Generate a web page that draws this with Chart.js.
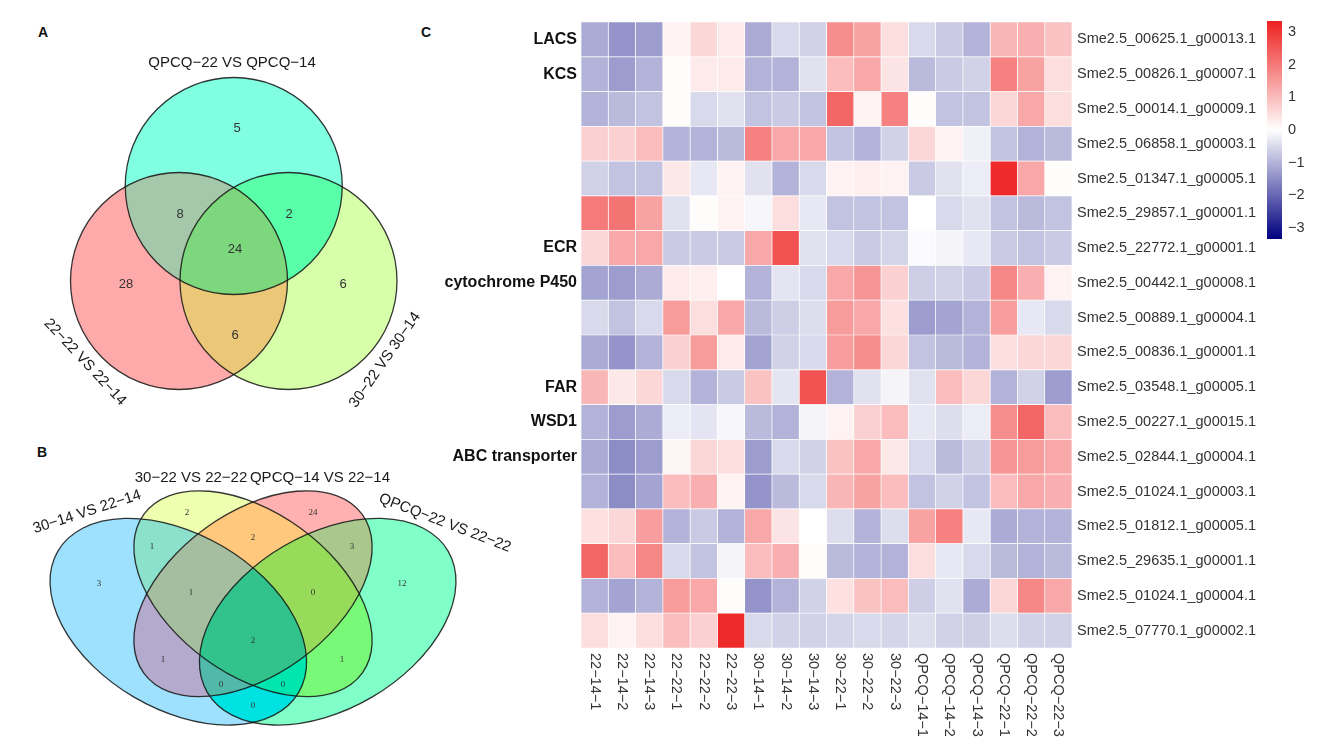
<!DOCTYPE html>
<html>
<head>
<meta charset="utf-8">
<script src="https://cdn.jsdelivr.net/npm/chart.js@4.4.1/dist/chart.umd.min.js"></script>
<style>
body{margin:0;background:#fff;width:1325px;height:749px;overflow:hidden;position:relative;font-family:"Liberation Sans",Arial,sans-serif;}
canvas{position:absolute;}
.tag{position:absolute;font:bold 14px "Liberation Sans",Arial,sans-serif;color:#111;}
</style>
</head>
<body>
<div class="tag" style="left:38px;top:24px">A</div>
<div class="tag" style="left:37px;top:444px">B</div>
<div class="tag" style="left:421px;top:24px">C</div>
<canvas id="venn" width="560" height="749" style="left:0;top:0"></canvas>
<canvas id="heat" width="905" height="749" style="left:420px;top:0"></canvas>
<canvas id="cbar" width="85" height="260" style="left:1240px;top:0"></canvas>
<script>
// ---- data ----
var vennASets=['QPCQ\u221222 VS QPCQ\u221214','22\u221222 VS 22\u221214','30\u221222 VS 30\u221214'];
var vennARegions=[[0],[1],[2],[0,1],[0,2],[1,2],[0,1,2]];
var vennACounts=[5,28,6,8,2,6,24];

var vennBSets=['30\u221214 VS 22\u221214','30\u221222 VS 22\u221222','QPCQ\u221214 VS 22\u221214','QPCQ\u221222 VS 22\u221222'];
var vennBRegions=[[0],[1],[2],[3],[0,1],[1,2],[2,3],[0,2],[1,3],[0,3],[0,1,2],[1,2,3],[0,2,3],[0,1,3],[0,1,2,3]];
var vennBCounts=[3,2,24,12,1,2,3,1,1,0,1,0,0,0,2];

var samples=['22\u221214\u22121','22\u221214\u22122','22\u221214\u22123','22\u221222\u22121','22\u221222\u22122','22\u221222\u22123',
 '30\u221214\u22121','30\u221214\u22122','30\u221214\u22123','30\u221222\u22121','30\u221222\u22122','30\u221222\u22123',
 'QPCQ\u221214\u22121','QPCQ\u221214\u22122','QPCQ\u221214\u22123','QPCQ\u221222\u22121','QPCQ\u221222\u22122','QPCQ\u221222\u22123'];
var genes=['Sme2.5_00625.1_g00013.1','Sme2.5_00826.1_g00007.1','Sme2.5_00014.1_g00009.1','Sme2.5_06858.1_g00003.1',
 'Sme2.5_01347.1_g00005.1','Sme2.5_29857.1_g00001.1','Sme2.5_22772.1_g00001.1','Sme2.5_00442.1_g00008.1',
 'Sme2.5_00889.1_g00004.1','Sme2.5_00836.1_g00001.1','Sme2.5_03548.1_g00005.1','Sme2.5_00227.1_g00015.1',
 'Sme2.5_02844.1_g00004.1','Sme2.5_01024.1_g00003.1','Sme2.5_01812.1_g00005.1','Sme2.5_29635.1_g00001.1',
 'Sme2.5_01024.1_g00004.1','Sme2.5_07770.1_g00002.1'];
var geneGroups=['LACS','KCS','','','','','ECR','cytochrome P450','','','FAR','WSD1','ABC transporter','','','','',''];
var heat=[
 [-1.1,-1.4,-1.3,0.2,0.6,0.3,-1.1,-0.5,-0.6,1.7,1.4,0.5,-0.5,-0.7,-1.0,1.1,1.2,0.9],
 [-1.0,-1.3,-1.0,0.05,0.3,0.3,-1.0,-1.0,-0.4,1.0,1.3,0.4,-0.9,-0.7,-0.6,1.9,1.4,0.5],
 [-1.0,-0.9,-0.8,0.05,-0.5,-0.4,-0.8,-0.7,-0.8,2.3,0.2,1.9,0.05,-0.8,-0.8,0.6,1.3,0.5],
 [0.7,0.7,1.0,-1.0,-1.0,-0.9,1.9,1.3,1.3,-0.8,-1.0,-0.6,0.6,0.2,-0.2,-0.8,-1.0,-0.9],
 [-0.6,-0.8,-0.8,0.35,-0.3,0.2,-0.4,-1.0,-0.5,0.2,0.25,0.2,-0.7,-0.4,-0.25,3.2,1.3,0.05],
 [2.0,2.1,1.4,-0.4,0.05,0.2,-0.1,0.5,-0.3,-0.8,-0.8,-0.8,0,-0.5,-0.4,-0.8,-0.9,-0.8],
 [0.6,1.3,1.3,-0.7,-0.7,-0.7,1.3,2.6,-0.4,-0.5,-0.7,-0.55,-0.05,-0.15,-0.3,-0.7,-0.8,-0.7],
 [-1.2,-1.3,-1.1,0.3,0.25,0,-1.0,-0.35,-0.5,1.3,1.6,0.7,-0.65,-0.6,-0.7,1.8,1.2,0.2],
 [-0.5,-0.8,-0.5,1.5,0.5,1.3,-0.9,-0.65,-0.45,1.5,1.3,0.45,-1.3,-1.2,-1.0,1.45,-0.3,-0.5],
 [-1.1,-1.4,-1.0,0.7,1.5,0.3,-1.2,-0.6,-0.5,1.45,1.7,0.6,-0.8,-0.9,-1.0,0.5,0.6,0.6],
 [1.1,0.35,0.6,-0.5,-1.0,-0.7,0.9,-0.35,2.6,-1.0,-0.4,-0.15,-0.4,1.0,0.6,-1.0,-0.6,-1.3],
 [-1.0,-1.3,-1.1,-0.25,-0.35,-0.1,-0.9,-1.0,-0.15,0.2,0.7,1.0,-0.3,-0.45,-0.25,1.7,2.3,1.0],
 [-1.1,-1.5,-1.3,0.15,0.6,0.5,-1.3,-0.5,-0.6,0.9,1.3,0.35,-0.5,-0.9,-0.65,1.6,1.5,1.3],
 [-1.0,-1.5,-1.2,1.0,1.2,0.2,-1.4,-0.9,-0.5,1.1,1.4,1.0,-0.8,-0.6,-0.8,1.0,1.3,1.2],
 [0.45,0.6,1.45,-1.0,-0.7,-1.0,1.3,0.4,0,-0.45,-1.0,-0.45,1.4,1.9,-0.3,-1.1,-1.0,-1.0],
 [2.3,1.0,1.8,-0.5,-0.8,-0.15,1.0,1.2,0.05,-0.9,-1.0,-1.0,0.5,-0.3,-0.5,-0.9,-1.0,-0.9],
 [-1.0,-1.2,-1.0,1.5,1.3,0.05,-1.4,-1.0,-0.6,0.45,0.9,1.0,-0.65,-0.4,-1.1,0.6,1.8,1.3],
 [0.5,0.2,0.5,1.0,0.7,3.2,-0.5,-0.6,-0.6,-0.55,-0.5,-0.55,-0.45,-0.6,-0.65,-0.45,-0.6,-0.6]
];
var cbMin=-3.35, cbMax=3.35;
var cbTicks=[-3,-2,-1,0,1,2,3];

// ---- layout / styles ----
var FONT='"Liberation Sans", Arial, sans-serif';
var vennAShapes=[{cx:233.75,cy:186,rx:108.5,ry:108.5,rot:0},{cx:179,cy:281,rx:108.5,ry:108.5,rot:0},{cx:288.5,cy:281,rx:108.5,ry:108.5,rot:0}];
var vennAColors=['#80ffe1','#ffaaaa','#d7ffaa','#a5c8aa','#5affaa','#ebc878','#7dd77d'];
var vennALabelPos=[[237,128],[126,284],[343,284],[180,214],[289,214],[235,335],[235,249]];
var vennASetPos=[[232,63,0],[85,362,47],[385,360,-55]];

var vennBShapes=[{cx:178.3,cy:621.7,rx:139.6,ry:87.5,rot:30.4},{cx:253,cy:593.7,rx:135,ry:81,rot:36},
 {cx:253,cy:593.7,rx:135,ry:81,rot:-36},{cx:327.7,cy:621.7,rx:139.6,ry:87.5,rot:-30.4}];
var vennBColors=['#9de1fe','#eeffb0','#ffb0b0','#80ffc8','#8ce1cd','#ffc87d','#aac88c','#b4aacd','#78fa78','#00e1e1',
 '#a5bea0','#96dc5a','#50b9aa','#00e6af','#32c38c'];
var vennBLabelPos=[[99,584],[187,513],[313,513],[402,584],[152,547],[253,538],[352,547],[163,660],[342,660],[253,706],
 [191,593],[313,593],[221,685],[283,685],[253,641]];
var vennBSetPos=[[87,512,-18],[191,478,0],[320,478,0],[445,523,21]];

function heatColor(v){
  var t=Math.min(Math.abs(v)/cbMax,1);
  if(v>=0) return 'rgb('+Math.round(255-17*t)+','+Math.round(255-223*t)+','+Math.round(255-223*t)+')';
  return 'rgb('+Math.round(255*(1-t))+','+Math.round(255*(1-t))+','+Math.round(255-127*t)+')';
}

// ---- venn diagrams ----
var diagrams=[
  {shapes:vennAShapes,regions:vennARegions,counts:vennACounts,colors:vennAColors,pos:vennALabelPos,
   sets:vennASets,setPos:vennASetPos,countFont:'13px '+FONT,setFont:'15px '+FONT},
  {shapes:vennBShapes,regions:vennBRegions,counts:vennBCounts,colors:vennBColors,pos:vennBLabelPos,
   sets:vennBSets,setPos:vennBSetPos,countFont:'9px "Liberation Serif", "Times New Roman", serif',setFont:'15px '+FONT}
];

var vennPlugin={
  id:'vennShapes',
  beforeDatasetsDraw:function(chart){
    var ctx=chart.ctx, xs=chart.scales.x, ys=chart.scales.y;
    function path(s){
      var px=xs.getPixelForValue(s.cx), py=ys.getPixelForValue(s.cy);
      var rx=Math.abs(xs.getPixelForValue(s.cx+s.rx)-px), ry=Math.abs(ys.getPixelForValue(s.cy+s.ry)-py);
      ctx.beginPath();
      ctx.ellipse(px,py,rx,ry,s.rot*Math.PI/180,0,Math.PI*2);
    }
    diagrams.forEach(function(d){
      // regions ordered by number of sets, deeper overlaps painted last
      var order=d.regions.map(function(r,i){return i;}).sort(function(a,b){return d.regions[a].length-d.regions[b].length;});
      order.forEach(function(i){
        var r=d.regions[i];
        ctx.save();
        for(var k=0;k<r.length-1;k++){path(d.shapes[r[k]]);ctx.clip();}
        path(d.shapes[r[r.length-1]]);
        ctx.fillStyle=d.colors[i];
        ctx.fill();
        ctx.restore();
      });
      ctx.save();
      ctx.strokeStyle='rgba(20,20,20,0.85)';
      ctx.lineWidth=1.3;
      d.shapes.forEach(function(s){path(s);ctx.stroke();});
      ctx.restore();
    });
  },
  afterDatasetsDraw:function(chart){
    var ctx=chart.ctx, xs=chart.scales.x, ys=chart.scales.y;
    diagrams.forEach(function(d){
      ctx.save();
      ctx.fillStyle='#333';
      ctx.font=d.countFont;
      ctx.textAlign='center';ctx.textBaseline='middle';
      d.counts.forEach(function(c,i){
        ctx.fillText(String(c),xs.getPixelForValue(d.pos[i][0]),ys.getPixelForValue(d.pos[i][1]));
      });
      ctx.fillStyle='#1a1a1a';
      ctx.font=d.setFont;
      d.sets.forEach(function(name,i){
        var p=d.setPos[i];
        ctx.save();
        ctx.translate(xs.getPixelForValue(p[0]),ys.getPixelForValue(p[1]));
        ctx.rotate(p[2]*Math.PI/180);
        ctx.fillText(name,0,0);
        ctx.restore();
      });
      ctx.restore();
    });
  }
};

var vennPoints=[];
diagrams.forEach(function(d){d.pos.forEach(function(p,i){vennPoints.push({x:p[0],y:p[1],c:d.counts[i]});});});

new Chart(document.getElementById('venn'),{
  type:'scatter',
  data:{datasets:[{data:vennPoints,pointRadius:0,showLine:false}]},
  options:{
    responsive:false,animation:false,
    layout:{padding:0},
    plugins:{legend:{display:false},tooltip:{enabled:false}},
    scales:{
      x:{type:'linear',min:0,max:560,display:false},
      y:{type:'linear',min:0,max:749,reverse:true,display:false}
    }
  },
  plugins:[vennPlugin]
});

// ---- heatmap ----
var colLabelPlugin={
  id:'colLabels',
  afterDraw:function(chart){
    var ctx=chart.ctx, xs=chart.scales.x, a=chart.chartArea;
    ctx.save();
    ctx.fillStyle='#333';
    ctx.font='14.5px '+FONT;
    ctx.textAlign='left';ctx.textBaseline='middle';
    samples.forEach(function(s,j){
      ctx.save();
      ctx.translate(xs.getPixelForValue(j+0.5),a.bottom+5);
      ctx.rotate(Math.PI/2);
      ctx.fillText(s,0,0);
      ctx.restore();
    });
    ctx.restore();
  }
};

new Chart(document.getElementById('heat'),{
  type:'bar',
  data:{
    labels:genes,
    datasets:samples.map(function(s,j){
      return {
        label:s,
        data:genes.map(function(){return 1;}),
        backgroundColor:heat.map(function(row){return heatColor(row[j]);}),
        borderColor:'rgba(255,255,255,0.85)',
        borderWidth:0.7,
        borderSkipped:false,
        barPercentage:1,
        categoryPercentage:1,
        yAxisID:'y'
      };
    })
  },
  options:{
    indexAxis:'y',
    responsive:false,animation:false,
    layout:{padding:{top:22,bottom:101,left:0,right:0}},
    plugins:{legend:{display:false},tooltip:{enabled:false}},
    scales:{
      x:{stacked:true,min:0,max:18,display:false},
      y:{stacked:true,position:'right',offset:true,
         grid:{display:false,drawTicks:false},border:{display:false},
         ticks:{padding:5,color:'#333',font:{family:FONT,size:14.5}},
         afterFit:function(s){s.width=253;}},
      g:{type:'category',axis:'y',position:'left',labels:geneGroups,offset:true,
         grid:{display:false,drawTicks:false},border:{display:false},
         ticks:{padding:4,color:'#111',font:{family:FONT,size:16,weight:'bold'},autoSkip:false},
         afterFit:function(s){s.width=161;}}
    }
  },
  plugins:[colLabelPlugin]
});

// ---- colour bar ----
new Chart(document.getElementById('cbar'),{
  type:'bar',
  data:{labels:[''],datasets:[{
    data:[[cbMin,cbMax]],
    backgroundColor:function(c){
      var chart=c.chart, ys=chart.scales.y;
      if(!chart.chartArea||!ys) return '#fff';
      var g=chart.ctx.createLinearGradient(0,ys.getPixelForValue(cbMax),0,ys.getPixelForValue(cbMin));
      for(var k=0;k<=20;k++){
        var v=cbMax-(cbMax-cbMin)*k/20;
        g.addColorStop(k/20,heatColor(v));
      }
      return g;
    },
    borderWidth:0,barPercentage:1,categoryPercentage:1
  }]},
  options:{
    responsive:false,animation:false,
    layout:{padding:{left:27,top:21,bottom:21,right:0}},
    plugins:{legend:{display:false},tooltip:{enabled:false}},
    scales:{
      x:{display:false},
      y:{position:'right',min:cbMin,max:cbMax,
         grid:{display:false,drawTicks:false},border:{display:false},
         afterBuildTicks:function(s){s.ticks=cbTicks.map(function(v){return {value:v};});},
         ticks:{padding:6,color:'#333',font:{family:FONT,size:14.5},
           callback:function(v){return String(v).replace('-','\u2212');}},
         afterFit:function(s){s.width=43;}}
    }
  }
});
</script>
</body>
</html>
